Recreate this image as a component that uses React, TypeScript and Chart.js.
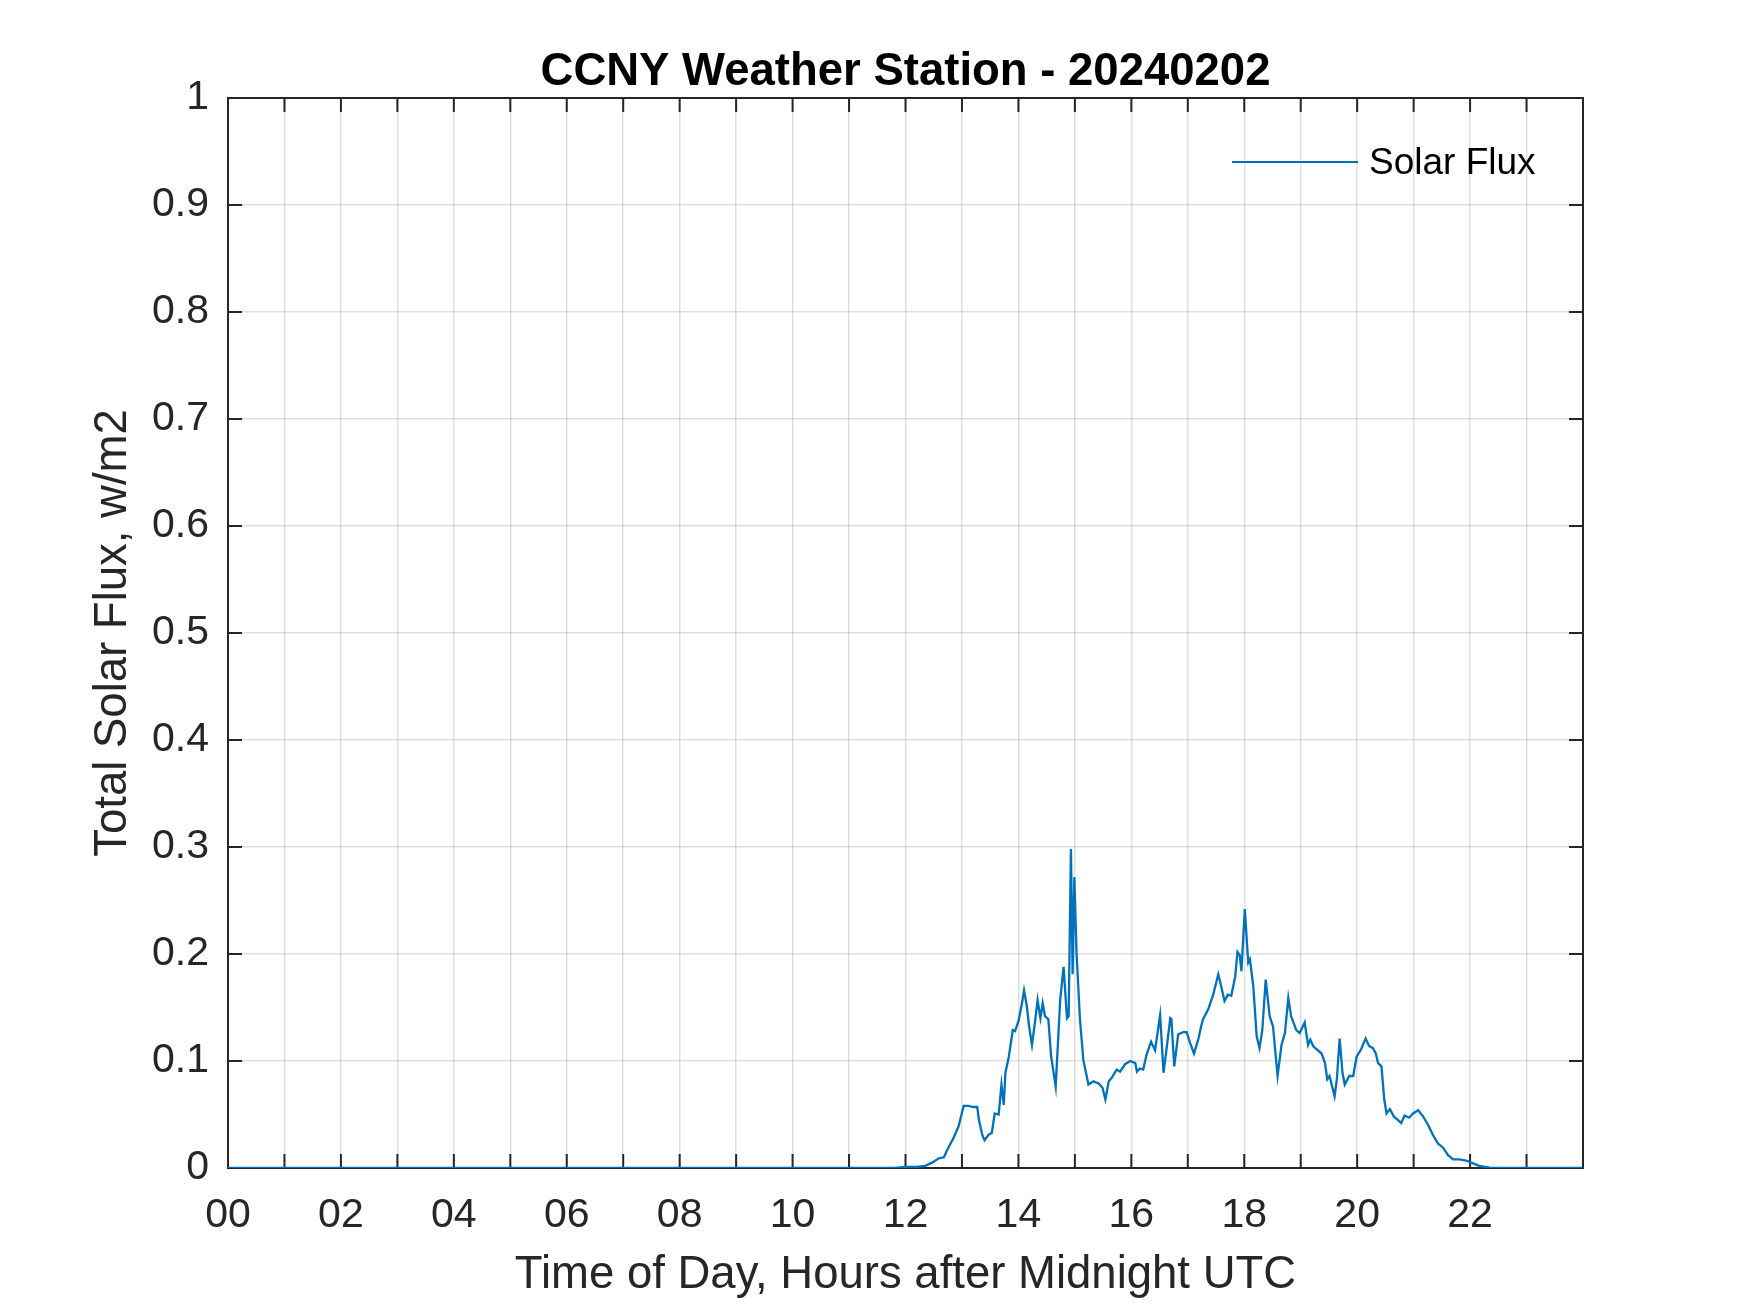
import React, { useEffect, useRef } from 'react';
import { Chart, registerables } from 'chart.js';

Chart.register(...registerables);

const FONT = '"Liberation Sans", Arial, Helvetica, sans-serif';

const titleText = 'CCNY Weather Station - 20240202';
const xAxisTitle = 'Time of Day, Hours after Midnight UTC';
const yAxisTitle = 'Total Solar Flux, w/m2';
const seriesLabel = 'Solar Flux';

const xTickLabels = ['00', '02', '04', '06', '08', '10', '12', '14', '16', '18', '20', '22'];
const yTickLabels = ['0', '0.1', '0.2', '0.3', '0.4', '0.5', '0.6', '0.7', '0.8', '0.9', '1'];

const hours = [
  0, 11.8, 12.0, 12.2, 12.35, 12.47, 12.59, 12.68, 12.74, 12.85, 12.94,
  13.03, 13.12, 13.2, 13.27, 13.3, 13.36, 13.4, 13.47, 13.53, 13.58, 13.65,
  13.7, 13.74, 13.77, 13.83, 13.9, 13.94, 14.0, 14.06, 14.1, 14.15, 14.19,
  14.24, 14.3, 14.34, 14.39, 14.43, 14.47, 14.53, 14.58, 14.66, 14.74, 14.8,
  14.86, 14.89, 14.93, 14.96, 14.99, 15.03, 15.09, 15.15, 15.24, 15.33, 15.42,
  15.49, 15.54, 15.6, 15.65, 15.74, 15.8, 15.89, 15.98, 16.07, 16.1, 16.15,
  16.21, 16.27, 16.35, 16.42, 16.51, 16.57, 16.63, 16.69, 16.71, 16.76, 16.83,
  16.92, 16.98, 17.04, 17.11, 17.19, 17.23, 17.27, 17.36, 17.45, 17.54, 17.59,
  17.65, 17.71, 17.77, 17.84, 17.88, 17.92, 17.95, 18.01, 18.07, 18.1, 18.16,
  18.22, 18.27, 18.32, 18.38, 18.45, 18.51, 18.59, 18.66, 18.72, 18.78, 18.83,
  18.92, 18.98, 19.07, 19.13, 19.17, 19.22, 19.28, 19.37, 19.43, 19.47, 19.51,
  19.6, 19.64, 19.69, 19.74, 19.78, 19.86, 19.93, 19.99, 20.07, 20.15, 20.21,
  20.28, 20.33, 20.37, 20.43, 20.48, 20.52, 20.58, 20.65, 20.72, 20.78, 20.84,
  20.92, 20.99, 21.08, 21.17, 21.26, 21.34, 21.43, 21.52, 21.61, 21.7, 21.81,
  21.93, 22.02, 22.16, 22.35, 22.5, 23.99,
];

const flux = [
  0, 0, 0.001, 0.001, 0.002, 0.005, 0.009, 0.01, 0.017, 0.028, 0.039,
  0.058, 0.058, 0.057, 0.057, 0.045, 0.031, 0.026, 0.031, 0.033, 0.051, 0.05,
  0.078, 0.059, 0.089, 0.104, 0.129, 0.128, 0.137, 0.153, 0.166, 0.151, 0.132,
  0.115, 0.139, 0.157, 0.14, 0.154, 0.142, 0.139, 0.104, 0.076, 0.157, 0.188,
  0.14, 0.142, 0.298, 0.181, 0.272, 0.201, 0.139, 0.101, 0.078, 0.081, 0.079,
  0.075, 0.064, 0.081, 0.084, 0.092, 0.09, 0.097, 0.1, 0.098, 0.09, 0.093,
  0.092, 0.106, 0.118, 0.11, 0.143, 0.089, 0.114, 0.14, 0.139, 0.095, 0.125,
  0.127, 0.127, 0.117, 0.107, 0.121, 0.131, 0.139, 0.148, 0.162, 0.181, 0.17,
  0.156, 0.162, 0.161, 0.179, 0.202, 0.199, 0.184, 0.242, 0.192, 0.195, 0.17,
  0.123, 0.112, 0.129, 0.176, 0.142, 0.132, 0.086, 0.115, 0.126, 0.159, 0.142,
  0.129, 0.126, 0.136, 0.115, 0.12, 0.114, 0.111, 0.107, 0.098, 0.083, 0.086,
  0.067, 0.083, 0.121, 0.089, 0.078, 0.086, 0.086, 0.104, 0.111, 0.121, 0.114,
  0.112, 0.107, 0.098, 0.095, 0.064, 0.051, 0.055, 0.048, 0.045, 0.042, 0.049,
  0.047, 0.051, 0.054, 0.048, 0.04, 0.031, 0.023, 0.019, 0.012, 0.008, 0.008,
  0.007, 0.005, 0.002, 0.0003, 0, 0,
];

const LINE_COLOR = '#0072BD';
const AXIS_COLOR = '#262626';
const GRID_COLOR = 'rgba(38,38,38,0.15)';

const boxPlugin = {
  id: 'matlabBox',
  beforeDatasetsDraw(chart: any) {
    const { ctx, chartArea } = chart;
    const { left, right, top, bottom } = chartArea;
    const xs = chart.scales.x;
    const ys = chart.scales.y;
    const L = 14;
    ctx.save();
    ctx.strokeStyle = AXIS_COLOR;
    ctx.lineWidth = 2;
    ctx.beginPath();
    xs.ticks.forEach((t: any) => {
      const px = xs.getPixelForValue(t.value);
      if (px <= left + 1 || px >= right - 1) return;
      ctx.moveTo(px, bottom);
      ctx.lineTo(px, bottom - L);
      ctx.moveTo(px, top);
      ctx.lineTo(px, top + L);
    });
    ys.ticks.forEach((t: any) => {
      const py = ys.getPixelForValue(t.value);
      if (py <= top + 1 || py >= bottom - 1) return;
      ctx.moveTo(left, py);
      ctx.lineTo(left + L, py);
      ctx.moveTo(right, py);
      ctx.lineTo(right - L, py);
    });
    ctx.stroke();
    ctx.strokeRect(left, top, right - left, bottom - top);
    ctx.restore();
  },
};

const titlePlugin = {
  id: 'axesTitle',
  afterDraw(chart: any) {
    const { ctx, chartArea } = chart;
    ctx.save();
    ctx.fillStyle = '#000';
    ctx.font = `bold 45.5px ${FONT}`;
    ctx.textAlign = 'center';
    ctx.textBaseline = 'alphabetic';
    ctx.fillText(titleText, (chartArea.left + chartArea.right) / 2, chartArea.top - 13);
    ctx.restore();
  },
};

const legendPlugin = {
  id: 'insideLegend',
  afterDatasetsDraw(chart: any) {
    const { ctx, chartArea } = chart;
    const ds = chart.data.datasets[0];
    const y = chartArea.top + 64;
    const x0 = chartArea.right - 351;
    const x1 = chartArea.right - 225;
    ctx.save();
    ctx.strokeStyle = ds.borderColor;
    ctx.lineWidth = 2;
    ctx.beginPath();
    ctx.moveTo(x0, y);
    ctx.lineTo(x1, y);
    ctx.stroke();
    ctx.fillStyle = '#000';
    ctx.font = `37px ${FONT}`;
    ctx.textBaseline = 'middle';
    ctx.textAlign = 'left';
    ctx.fillText(ds.label, chartArea.right - 214, y + 2);
    ctx.restore();
  },
};

export default function App() {
  const ref = useRef<HTMLCanvasElement | null>(null);

  useEffect(() => {
    document.body.style.margin = '0';
    document.body.style.overflow = 'hidden';
    const canvas = ref.current;
    if (!canvas) return;
    Chart.defaults.font.family = FONT;
    const chart = new Chart(canvas, {
      type: 'line',
      data: {
        datasets: [
          {
            label: seriesLabel,
            data: hours.map((h, i) => ({ x: h, y: flux[i] })),
            borderColor: LINE_COLOR,
            backgroundColor: LINE_COLOR,
            borderWidth: 2.3,
            pointRadius: 0,
            tension: 0,
            fill: false,
          },
        ],
      },
      options: {
        responsive: false,
        animation: false,
        devicePixelRatio: 1,
        events: [],
        layout: { padding: { left: 0, right: 167, top: 98, bottom: 0 } },
        plugins: {
          title: { display: false },
          legend: { display: false },
          tooltip: { enabled: false },
        },
        scales: {
          x: {
            type: 'linear',
            min: 0,
            max: 24,
            afterFit: (s: any) => {
              s.height = 145;
            },
            border: { display: false },
            grid: { color: GRID_COLOR, lineWidth: 1.5, drawTicks: false },
            ticks: {
              stepSize: 1,
              autoSkip: false,
              maxRotation: 0,
              minRotation: 0,
              padding: 23,
              color: AXIS_COLOR,
              font: { size: 41, family: FONT },
              callback: (v: any) => {
                const n = Math.round(Number(v));
                if (n % 2 !== 0 || n >= 24) return '';
                return xTickLabels[n / 2];
              },
            },
            title: {
              display: true,
              text: xAxisTitle,
              color: AXIS_COLOR,
              font: { size: 45.5, family: FONT },
              padding: { top: 0, bottom: 10.5 },
            },
          },
          y: {
            type: 'linear',
            min: 0,
            max: 1,
            afterFit: (s: any) => {
              s.width = 228;
            },
            border: { display: false },
            grid: { color: GRID_COLOR, lineWidth: 1.5, drawTicks: false },
            ticks: {
              stepSize: 0.1,
              padding: 19,
              color: AXIS_COLOR,
              font: { size: 41, family: FONT },
              callback: (v: any) => {
                const idx = Math.round(Number(v) * 10);
                return yTickLabels[idx] ?? '';
              },
            },
            title: {
              display: true,
              text: yAxisTitle,
              color: AXIS_COLOR,
              font: { size: 45.5, family: FONT },
              padding: { top: 86, bottom: 0 },
            },
          },
        },
      },
      plugins: [boxPlugin, legendPlugin, titlePlugin],
    });
    return () => chart.destroy();
  }, []);

  return (
    <div style={{ position: 'absolute', left: 0, top: 0, width: 1750, height: 1313, background: '#fff' }}>
      <canvas ref={ref} width={1750} height={1313} style={{ width: 1750, height: 1313, display: 'block' }} />
    </div>
  );
}
